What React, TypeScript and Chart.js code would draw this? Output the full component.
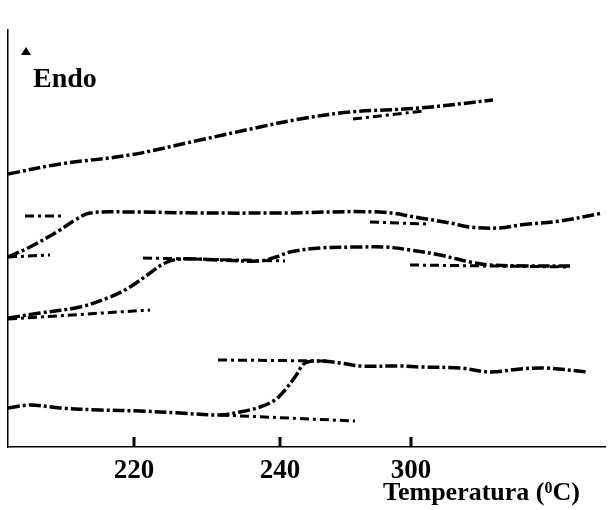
import { useEffect, useRef } from "react";
import { Chart, registerables } from "chart.js";
Chart.register(...registerables);

// x in arbitrary scan position units (0..597), y in heat-flow offset units (0..417)
const tickPositions = [126, 272, 403];
const tickLabels = ["220", "240", "300"];
const axisTitle = ["Temperatura (", "0", "C)"];
const endoLabel = "Endo";

const c1x = [0, 52, 122, 192, 252, 292, 342, 412, 485];
const c1y = [273, 283, 292, 307, 320, 328, 335, 339, 347];
const t1x = [345, 415];
const t1y = [328, 336];

const c2x = [0, 22, 52, 67, 82, 122, 192, 272, 372, 412, 442, 462, 492, 512, 552, 595];
const c2y = [190, 200, 217, 227, 234, 235, 234, 234, 235, 229, 224, 220, 219, 222, 226, 234];
const t2ax = [0, 42];
const t2ay = [190, 192];
const t2bx = [17, 57];
const t2by = [231, 231];
const t2cx = [362, 420];
const t2cy = [225, 223];

const c3x = [0, 32, 72, 102, 122, 142, 157, 172, 212, 252, 268, 282, 312, 352, 377, 402, 432, 462, 482, 522, 562];
const c3y = [129, 134, 140, 150, 160, 174, 184, 188, 187, 186, 190, 195, 199, 200, 200, 197, 192, 185, 182, 181, 181];
const t3ax = [0, 142];
const t3ay = [128, 137];
const t3bx = [135, 277];
const t3by = [189, 186];
const t3cx = [402, 562];
const t3cy = [182, 180];

const c4x = [0, 22, 52, 92, 132, 172, 212, 232, 252, 267, 277, 287, 297, 312, 332, 352, 392, 412, 452, 482, 512, 537, 579];
const c4y = [39, 42, 39, 37, 36, 34, 32, 35, 40, 47, 57, 70, 84, 86, 84, 81, 81, 80, 79, 75, 78, 79, 75];
const t4ax = [210, 322];
const t4ay = [87, 86];
const t4bx = [212, 347];
const t4by = [32, 26];

const zip = (xs: number[], ys: number[]) => xs.map((x, i) => ({ x, y: ys[i] }));

const curve = (xs: number[], ys: number[]) => ({
  data: zip(xs, ys),
  borderColor: "#000",
  borderWidth: 3.5,
  borderDash: [12, 3, 3, 3],
  pointRadius: 0,
  tension: 0.35,
  fill: false,
});
const tangent = (xs: number[], ys: number[]) => ({
  data: zip(xs, ys),
  borderColor: "#000",
  borderWidth: 3,
  borderDash: [9, 4, 3, 4],
  pointRadius: 0,
  tension: 0,
  fill: false,
});

const SERIF = "'Liberation Serif', 'DejaVu Serif', serif";

const decor = {
  id: "decor",
  afterDraw(chart: any) {
    const ctx = chart.ctx;
    const xs = chart.scales.x;
    const bottom = chart.chartArea.bottom;
    ctx.save();
    ctx.strokeStyle = "#000";
    ctx.lineWidth = 3;
    xs.ticks.forEach((t: any) => {
      const px = xs.getPixelForValue(t.value);
      ctx.beginPath();
      ctx.moveTo(px, bottom);
      ctx.lineTo(px, bottom - 10);
      ctx.stroke();
    });
    // Endo arrow
    ctx.fillStyle = "#000";
    ctx.beginPath();
    ctx.moveTo(21, 55);
    ctx.lineTo(31, 55);
    ctx.lineTo(26, 47);
    ctx.closePath();
    ctx.fill();
    ctx.font = `bold 28px ${SERIF}`;
    ctx.textBaseline = "alphabetic";
    ctx.textAlign = "left";
    ctx.fillText(endoLabel, 33, 87);
    // axis title
    let x = 383;
    ctx.font = `bold 26px ${SERIF}`;
    ctx.fillText(axisTitle[0], x, 500);
    x += ctx.measureText(axisTitle[0]).width;
    ctx.font = `bold 16px ${SERIF}`;
    ctx.fillText(axisTitle[1], x, 493);
    x += ctx.measureText(axisTitle[1]).width;
    ctx.font = `bold 26px ${SERIF}`;
    ctx.fillText(axisTitle[2], x, 500);
    ctx.restore();
  },
};

export default function App() {
  const ref = useRef<HTMLCanvasElement>(null);
  useEffect(() => {
    if (!ref.current) return;
    const chart = new Chart(ref.current, {
      type: "line",
      data: {
        datasets: [
          curve(c1x, c1y),
          tangent(t1x, t1y),
          curve(c2x, c2y),
          tangent(t2ax, t2ay),
          tangent(t2bx, t2by),
          tangent(t2cx, t2cy),
          curve(c3x, c3y),
          tangent(t3ax, t3ay),
          tangent(t3bx, t3by),
          tangent(t3cx, t3cy),
          curve(c4x, c4y),
          tangent(t4ax, t4ay),
          tangent(t4bx, t4by),
        ] as any,
      },
      options: {
        responsive: false,
        animation: false,
        layout: { padding: { left: 8, top: 30, right: 3, bottom: 0 } },
        plugins: { legend: { display: false }, tooltip: { enabled: false } },
        scales: {
          x: {
            type: "linear",
            min: 0,
            max: 597,
            afterBuildTicks: (s: any) => {
              s.ticks = tickPositions.map((v) => ({ value: v }));
            },
            afterFit: (s: any) => {
              s.height = 63;
            },
            ticks: {
              autoSkip: false,
              maxRotation: 0,
              padding: 8,
              color: "#000",
              font: { family: SERIF, size: 27, weight: "bold" },
              callback: (_v: any, i: number) => tickLabels[i],
            },
            grid: { drawOnChartArea: false, drawTicks: false },
            border: { display: true, color: "#000", width: 1.5, dash: [7, 2] },
          },
          y: {
            type: "linear",
            min: 0,
            max: 417,
            afterFit: (s: any) => {
              s.width = 0;
            },
            ticks: { display: false },
            grid: { drawOnChartArea: false, drawTicks: false },
            border: { display: true, color: "#000", width: 1.5, dash: [7, 2] },
          },
        },
      } as any,
      plugins: [decor],
    });
    return () => chart.destroy();
  }, []);
  return (
    <canvas
      ref={ref}
      width={608}
      height={510}
      style={{ position: "fixed", left: 0, top: 0, width: 608, height: 510 }}
    />
  );
}
